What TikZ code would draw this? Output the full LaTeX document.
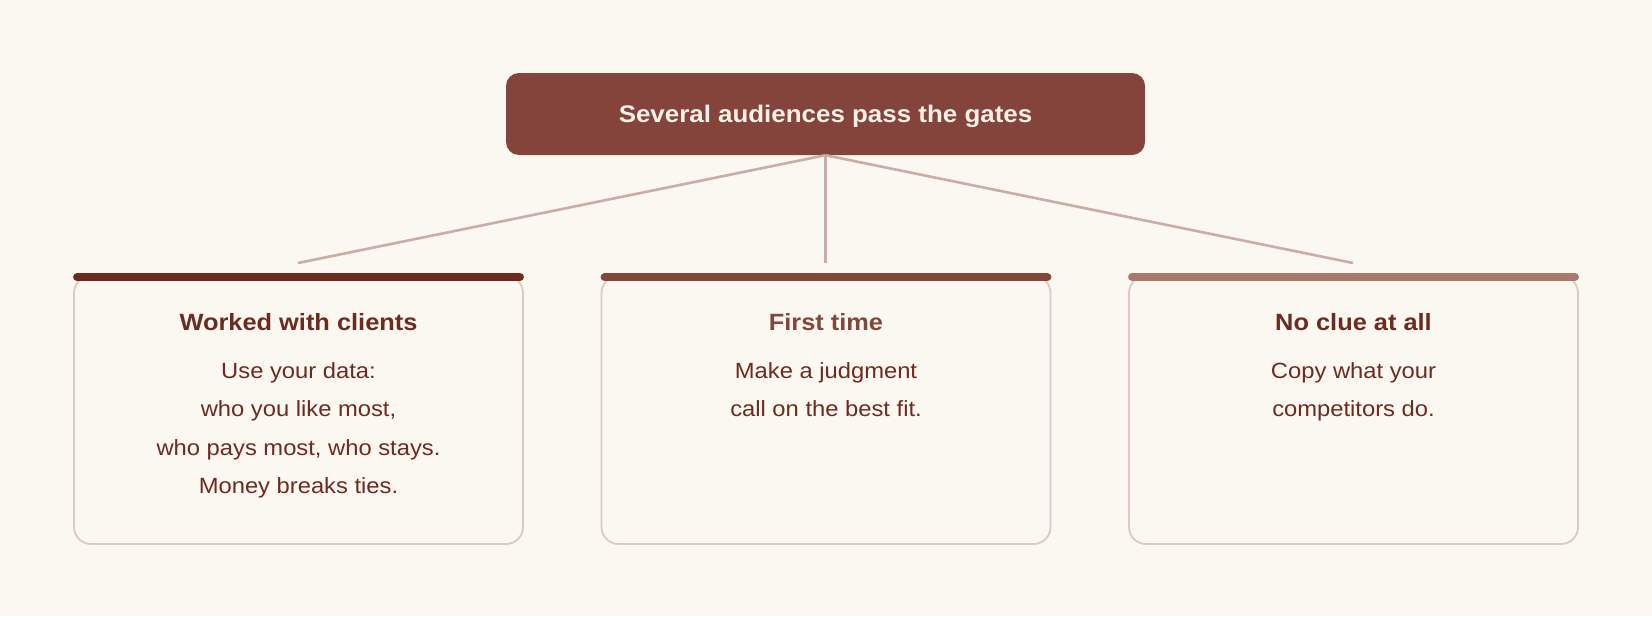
\documentclass[tikz,border=0pt]{standalone}
\usepackage{fontspec}
\setmainfont[FakeStretch=1.08]{Liberation Sans}
\definecolor{bg}{HTML}{FBF7F1}
\definecolor{topfill}{HTML}{84443B}
\definecolor{toptext}{HTML}{FBF1E8}
\definecolor{conn}{HTML}{CBADA5}
\definecolor{cardline}{HTML}{DCCAC2}
\definecolor{dark}{HTML}{6E2A1F}
\definecolor{mid}{HTML}{84453B}
\definecolor{light}{HTML}{A8796E}
\tikzset{
  topbox/.style={fill=topfill, rounded corners=13pt, minimum width=639pt, minimum height=82pt,
    text=toptext, font=\fontsize{24}{28}\selectfont\bfseries, text height=19pt, text depth=3pt, inner sep=0pt},
  connector/.style={draw=conn, line width=2.6pt},
  card/.style={draw=cardline, line width=1.8pt, rounded corners=17pt, minimum width=449pt, minimum height=268pt, inner sep=0pt},
  bar/.style={line width=8pt, line cap=round},
  cardtitle/.style={anchor=base, font=\fontsize{23.5}{28}\selectfont\bfseries, inner sep=0pt},
  cardbody/.style={anchor=north, align=center, text=dark, font=\fontsize{22}{38.5}\selectfont, inner sep=0pt}
}
\begin{document}
\begin{tikzpicture}[x=1pt,y=-1pt]
\fill[bg] (0,0) rectangle (1652,616);
\useasboundingbox (0,0) rectangle (1652,616);
\node[topbox] (top) at (825.5,114) {Several audiences pass the gates};
\node[card] (c1) at (298.5,410) {};
\node[card] (c2) at (826,410) {};
\node[card] (c3) at (1353.5,410) {};
\coordinate (a1) at (298,263);
\coordinate (a2) at (825.5,263);
\coordinate (a3) at (1353,263);
\draw[connector] (top.south) -- (a1);
\draw[connector] (top.south) -- (a2);
\draw[connector] (top.south) -- (a3);
\draw[bar, dark] ([xshift=4pt,yshift=-2pt]c1.north west) -- ([xshift=-4pt,yshift=-2pt]c1.north east);
\draw[bar, mid] ([xshift=4pt,yshift=-2pt]c2.north west) -- ([xshift=-4pt,yshift=-2pt]c2.north east);
\draw[bar, light] ([xshift=4pt,yshift=-2pt]c3.north west) -- ([xshift=-4pt,yshift=-2pt]c3.north east);
\node[cardtitle, text=dark] (t1) at (298.5,330) {Worked with clients};
\node[cardtitle, text=mid] (t2) at (826,330) {First time};
\node[cardtitle, text=dark] (t3) at (1353.5,330) {No clue at all};
\node[cardbody] (b1) at (298.5,362) {Use your data:\\who you like most,\\who pays most, who stays.\\Money breaks ties.};
\node[cardbody] (b2) at (826,362) {Make a judgment\\call on the best fit.};
\node[cardbody] (b3) at (1353.5,362) {Copy what your\\competitors do.};
\end{tikzpicture}
\end{document}
